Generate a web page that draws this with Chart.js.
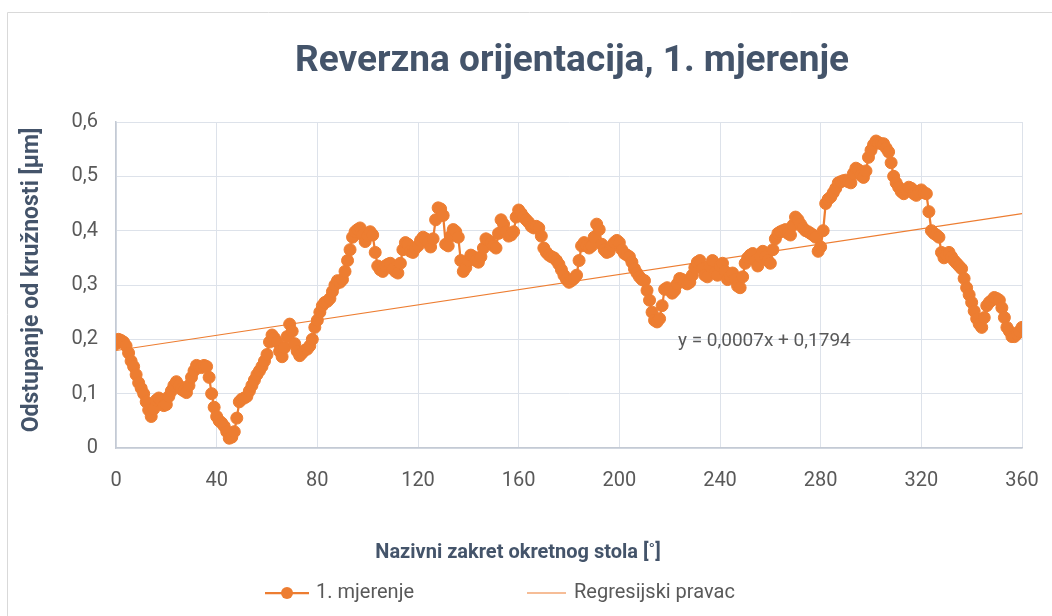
<!DOCTYPE html>
<html>
<head>
<meta charset="utf-8">
<script src="https://cdn.jsdelivr.net/npm/chart.js@4.4.1/dist/chart.umd.min.js"></script>
<style>
    body { margin: 0; background: #fff; }
    #wrap { width: 1052px; height: 616px; position: relative; }
</style>
</head>
<body>
<div id="wrap"><canvas id="roundnessChart" width="1052" height="616"></canvas></div>
<script>
// measured deviation, one reading per degree from 0 to 360
const angleStep = 1;
const deviation = [
    0.192, 0.200, 0.198, 0.195, 0.188, 0.175, 0.160, 0.150, 0.135, 0.120,
    0.110, 0.100, 0.085, 0.070, 0.058, 0.072, 0.088, 0.092, 0.088, 0.078,
    0.080, 0.095, 0.105, 0.115, 0.122, 0.115, 0.108, 0.105, 0.102, 0.115,
    0.130, 0.142, 0.152, 0.150, 0.148, 0.152, 0.150, 0.130, 0.100, 0.075,
    0.058, 0.050, 0.046, 0.040, 0.030, 0.018, 0.020, 0.030, 0.055, 0.085,
    0.090, 0.092, 0.095, 0.105, 0.115, 0.125, 0.135, 0.142, 0.150, 0.160,
    0.172, 0.195, 0.208, 0.202, 0.195, 0.178, 0.168, 0.185, 0.205, 0.228,
    0.215, 0.192, 0.178, 0.170, 0.175, 0.180, 0.182, 0.188, 0.200, 0.222,
    0.235, 0.250, 0.262, 0.268, 0.270, 0.275, 0.288, 0.300, 0.308, 0.305,
    0.310, 0.325, 0.345, 0.365, 0.388, 0.398, 0.402, 0.405, 0.392, 0.380,
    0.390, 0.398, 0.392, 0.360, 0.335, 0.328, 0.325, 0.335, 0.338, 0.340,
    0.330, 0.325, 0.322, 0.340, 0.365, 0.378, 0.375, 0.362, 0.360, 0.368,
    0.372, 0.382, 0.388, 0.385, 0.378, 0.370, 0.385, 0.420, 0.442, 0.440,
    0.428, 0.375, 0.372, 0.390, 0.402, 0.398, 0.388, 0.345, 0.325, 0.332,
    0.345, 0.355, 0.352, 0.345, 0.342, 0.352, 0.368, 0.385, 0.382, 0.378,
    0.372, 0.368, 0.395, 0.420, 0.412, 0.398, 0.390, 0.392, 0.398, 0.425,
    0.438, 0.432, 0.425, 0.420, 0.415, 0.408, 0.405, 0.408, 0.405, 0.390,
    0.368, 0.360, 0.355, 0.352, 0.350, 0.345, 0.338, 0.328, 0.318, 0.310,
    0.305, 0.308, 0.312, 0.318, 0.345, 0.372, 0.378, 0.372, 0.368, 0.372,
    0.388, 0.412, 0.402, 0.375, 0.365, 0.360, 0.362, 0.372, 0.378, 0.382,
    0.378, 0.365, 0.358, 0.355, 0.352, 0.342, 0.330, 0.322, 0.315, 0.310,
    0.308, 0.290, 0.272, 0.250, 0.235, 0.232, 0.238, 0.262, 0.292, 0.295,
    0.292, 0.285, 0.290, 0.302, 0.312, 0.310, 0.305, 0.302, 0.305, 0.318,
    0.332, 0.342, 0.345, 0.330, 0.318, 0.315, 0.335, 0.345, 0.322, 0.318,
    0.335, 0.340, 0.325, 0.310, 0.315, 0.322, 0.310, 0.298, 0.295, 0.315,
    0.340, 0.350, 0.355, 0.358, 0.345, 0.335, 0.352, 0.362, 0.352, 0.345,
    0.340, 0.365, 0.385, 0.395, 0.398, 0.400, 0.402, 0.395, 0.392, 0.410,
    0.425, 0.420, 0.412, 0.405, 0.400, 0.398, 0.395, 0.392, 0.388, 0.362,
    0.370, 0.400, 0.450, 0.458, 0.462, 0.470, 0.478, 0.488, 0.490, 0.492,
    0.493, 0.490, 0.488, 0.505, 0.515, 0.512, 0.502, 0.498, 0.510, 0.535,
    0.548, 0.558, 0.565, 0.562, 0.560, 0.560, 0.552, 0.545, 0.525, 0.500,
    0.488, 0.480, 0.472, 0.468, 0.475, 0.480, 0.478, 0.468, 0.465, 0.472,
    0.475, 0.470, 0.468, 0.435, 0.400, 0.395, 0.392, 0.388, 0.360, 0.350,
    0.355, 0.360, 0.352, 0.345, 0.340, 0.335, 0.330, 0.312, 0.295, 0.282,
    0.268, 0.252, 0.238, 0.228, 0.222, 0.240, 0.262, 0.268, 0.272, 0.277,
    0.275, 0.272, 0.258, 0.240, 0.222, 0.215, 0.205, 0.205, 0.210, 0.215,
    0.222
];
const angles = deviation.map((v, i) => i * angleStep);

// regression line as printed on the chart
const trendSlope = 0.0007;
const trendIntercept = 0.1794;
const trendX = [0, 360];

const xTicks = [0, 40, 80, 120, 160, 200, 240, 280, 320, 360];
const yTicks = [0, 0.1, 0.2, 0.3, 0.4, 0.5, 0.6];

const chartTitle = 'Reverzna orijentacija, 1. mjerenje';
const xTitle = 'Nazivni zakret okretnog stola [˚]';
const yTitle = 'Odstupanje od kružnosti [µm]';
const seriesName = '1. mjerenje';
const trendName = 'Regresijski pravac';
const trendLabel = 'y = 0,0007x + 0,1794';

const FONT = '"Roboto", "Open Sans", sans-serif';
const ORANGE = '#ED7D31';
const TEXT = '#595959';
const TITLE = '#44546A';

const commaNum = v => String(v).replace('.', ',');

// titles, legend and the equation are drawn by hand
const decor = {
    id: 'decor',
    beforeDraw(chart) {
        const ctx = chart.ctx;
        ctx.save();
        ctx.strokeStyle = '#d9d9d9';
        ctx.lineWidth = 1;
        ctx.beginPath();
        ctx.moveTo(7.5, 616);
        ctx.lineTo(7.5, 12.5);
        ctx.lineTo(1052, 12.5);
        ctx.stroke();
        ctx.restore();
    },
    afterDraw(chart) {
        const ctx = chart.ctx;
        ctx.save();
        ctx.textBaseline = 'middle';

        ctx.fillStyle = TITLE;
        ctx.textAlign = 'center';
        ctx.font = 'bold 37px ' + FONT;
        ctx.fillText(chartTitle, 572, 62);

        ctx.font = 'bold 20px ' + FONT;
        ctx.fillText(xTitle, 518, 553);

        ctx.save();
        ctx.translate(32, 280);
        ctx.rotate(-Math.PI / 2);
        ctx.font = 'bold 23px ' + FONT;
        ctx.fillText(yTitle, 0, 0);
        ctx.restore();

        // equation of the regression line
        ctx.fillStyle = TEXT;
        ctx.textAlign = 'left';
        ctx.font = '19px ' + FONT;
        ctx.fillText(trendLabel, 678, 341);

        // legend
        const ly = 593;
        ctx.strokeStyle = ORANGE;
        ctx.lineWidth = 2.25;
        ctx.beginPath();
        ctx.moveTo(265, ly);
        ctx.lineTo(309, ly);
        ctx.stroke();
        ctx.fillStyle = ORANGE;
        ctx.beginPath();
        ctx.arc(287, ly, 6, 0, Math.PI * 2);
        ctx.fill();
        ctx.lineWidth = 1.2;
        ctx.beginPath();
        ctx.moveTo(527, ly);
        ctx.lineTo(566, ly);
        ctx.stroke();
        ctx.fillStyle = TEXT;
        ctx.font = '20px ' + FONT;
        ctx.fillText(seriesName, 316, ly);
        ctx.fillText(trendName, 574, ly);
        ctx.restore();
    }
};

const ctx = document.getElementById('roundnessChart').getContext('2d');
new Chart(ctx, {
    type: 'line',
    data: {
        datasets: [{
            label: seriesName,
            data: angles.map((a, i) => ({ x: a, y: deviation[i] })),
            borderColor: ORANGE,
            borderWidth: 2.25,
            backgroundColor: ORANGE,
            pointRadius: 6,
            pointBorderWidth: 1,
            pointBackgroundColor: ORANGE,
            pointBorderColor: ORANGE,
            tension: 0
        }, {
            label: trendName,
            data: trendX.map(x => ({ x: x, y: trendIntercept + trendSlope * x })),
            borderColor: ORANGE,
            borderWidth: 1.2,
            pointRadius: 0,
            tension: 0
        }]
    },
    options: {
        responsive: false,
        animation: false,
        layout: { padding: { left: 0, top: 122, right: 30, bottom: 0 } },
        plugins: {
            legend: { display: false },
            title: { display: false },
            tooltip: { enabled: false }
        },
        scales: {
            x: {
                type: 'linear',
                min: 0,
                max: 360,
                afterFit(scale) { scale.height = 168; },
                afterBuildTicks(scale) { scale.ticks = xTicks.map(v => ({ value: v })); },
                // invisible tick marks push the labels down without widening the side padding
                grid: { color: '#dde2ea', drawTicks: true, tickLength: 18, tickColor: 'rgba(0,0,0,0)' },
                border: { color: '#c4cad4', width: 1.5 },
                ticks: {
                    padding: 3,
                    color: TEXT,
                    font: { family: FONT, size: 20 },
                    callback: v => commaNum(v)
                }
            },
            y: {
                min: 0,
                max: 0.6,
                afterFit(scale) { scale.width = 116; },
                afterBuildTicks(scale) { scale.ticks = yTicks.map(v => ({ value: v })); },
                grid: { color: '#dde2ea', drawTicks: false },
                border: { color: '#c4cad4', width: 1.5 },
                ticks: {
                    padding: 18,
                    color: TEXT,
                    font: { family: FONT, size: 20 },
                    callback: v => commaNum(v)
                }
            }
        }
    },
    plugins: [decor]
});
</script>
</body>
</html>
